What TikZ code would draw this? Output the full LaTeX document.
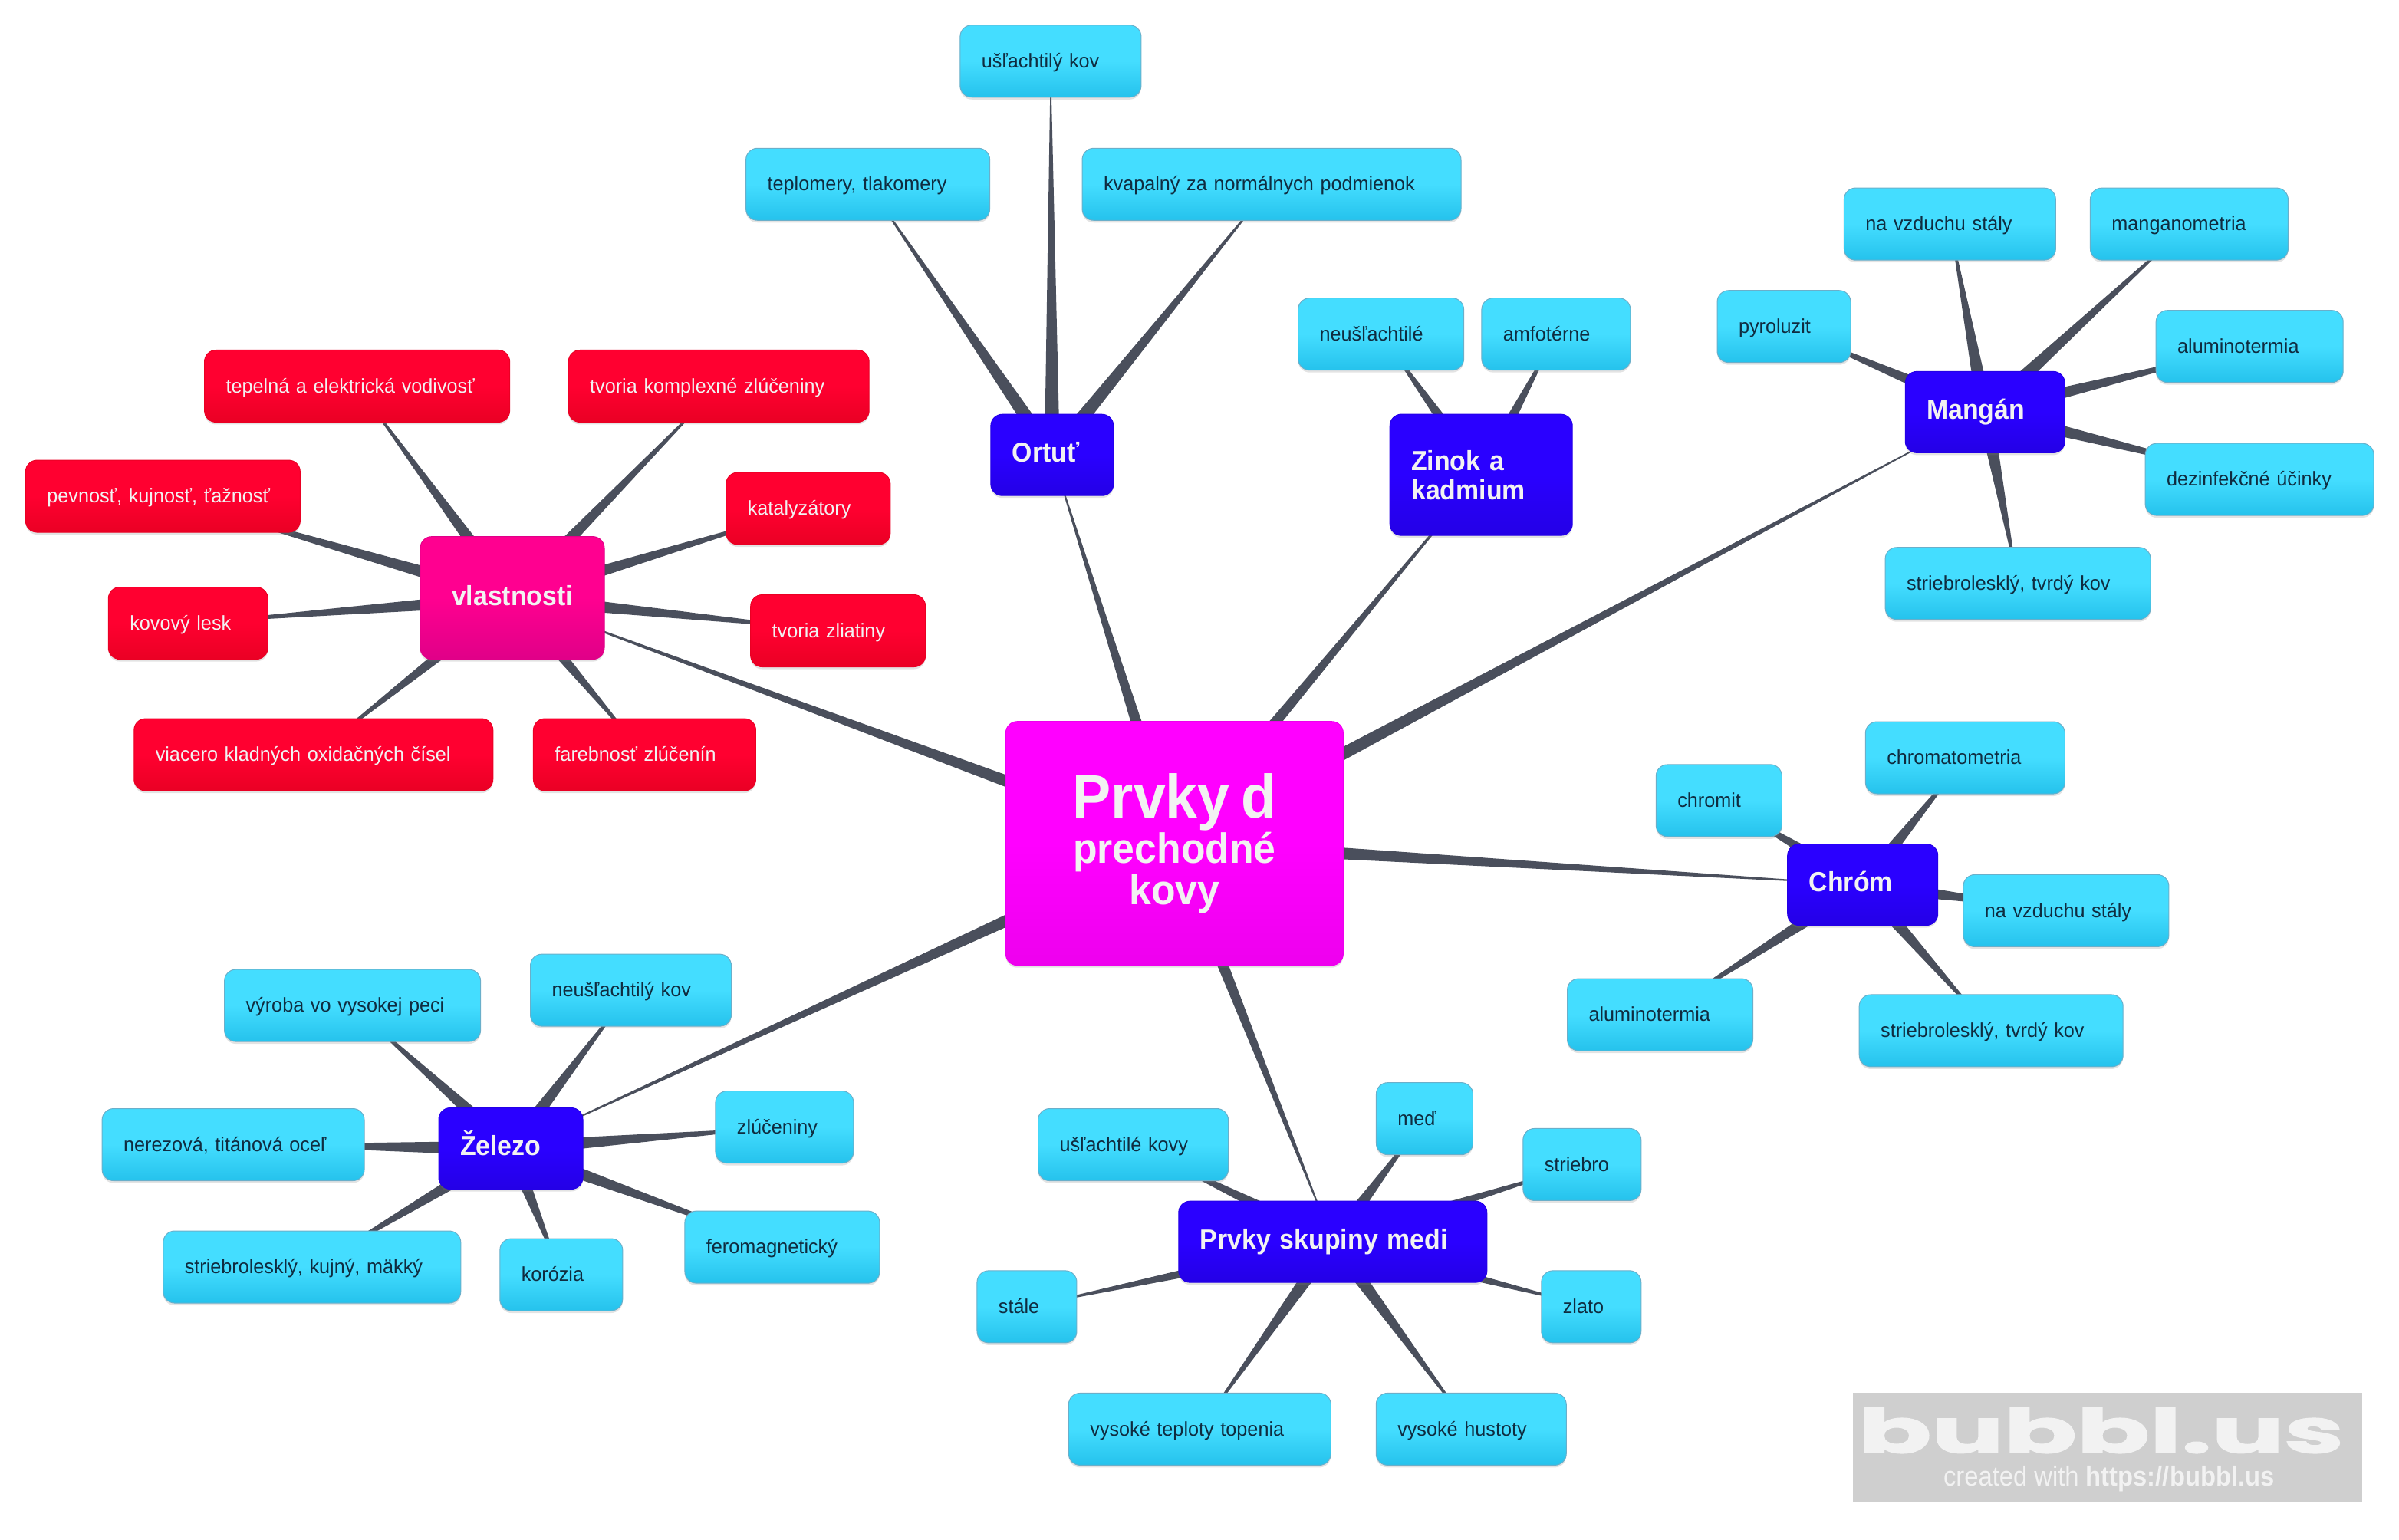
\documentclass[tikz,border=0pt]{standalone}
\usepackage{fontspec}
\setmainfont[FakeStretch=0.97,WordSpace=0.85,BoldFeatures={FakeStretch=0.94,WordSpace=0.7}]{Liberation Sans}
\newfontfamily\logofont[BoldFeatures={FakeBold=1.5}]{Poppins}
\newfontfamily\urlfont[FakeStretch=0.91]{Liberation Sans}
\usetikzlibrary{positioning,calc,shadows,backgrounds}
\definecolor{bondcol}{HTML}{4A4F5C}
\definecolor{leafink}{HTML}{0F2C40}
\definecolor{paleink}{HTML}{F2F2F2}
\tikzset{
  box/.style={rectangle,rounded corners=7.5pt,minimum height=47pt,inner xsep=14pt,inner ysep=0pt,align=left,
    text height=11.6pt,text depth=3pt,line width=.5pt,
    drop shadow={shadow xshift=0pt,shadow yshift=-1.5pt,opacity=.22}},
  leaf/.style={box,text width=#1pt-28pt,minimum width=#1pt,draw=cyan!70!black!70,top color=leaftop,bottom color=leafbot,middle color=leaftop,
    text=leafink,font=\fontsize{13}{16}\selectfont},
  redleaf/.style={box,text width=#1pt-28pt,minimum width=#1pt,draw=redbot,top color=redtop,bottom color=redbot,middle color=redtop,
    text=paleink,font=\fontsize{13}{16}\selectfont},
  branch/.style={box,text width=#1pt-28pt,minimum width=#1pt,minimum height=53pt,draw=bluebot,top color=bluetop,bottom color=bluebot,middle color=bluetop,
    text=paleink,font=\fontsize{18}{19}\selectfont\bfseries,text height=13.4pt,text depth=4pt},
}
\definecolor{leaftop}{HTML}{44DDFF}
\definecolor{leafbot}{HTML}{25C2EC}
\definecolor{redtop}{HTML}{FF0030}
\definecolor{redbot}{HTML}{EA0024}
\definecolor{bluetop}{HTML}{2A00FF}
\definecolor{bluebot}{HTML}{2400E6}
\definecolor{pinktop}{HTML}{FF0090}
\definecolor{pinkbot}{HTML}{E00088}
\definecolor{roottop}{HTML}{FF00FF}
\definecolor{rootbot}{HTML}{EE00EE}
\newcommand{\bond}[2]{%
  \begin{pgfonlayer}{background}
    \path (#1.center) -- (#2) coordinate (tip);
    \fill[bondcol] ($(#1.center)!5pt!90:(tip)$) -- ($(#1.center)!5pt!-90:(tip)$) -- (tip) -- cycle;
  \end{pgfonlayer}}

\begin{document}
\begin{tikzpicture}[x=0.997pt,y=-0.997pt]
  \useasboundingbox (0,0) rectangle (1568.7,1007);
  \node[box,minimum width=220pt,minimum height=159pt,inner xsep=0pt,align=center,text height=,text depth=,draw=rootbot,top color=roottop,bottom color=rootbot,middle color=roottop,text=paleink,font=\bfseries] (root) at (768,551.5)
    {{\fontsize{40}{30}\selectfont Prvky d}\\{\fontsize{27.5}{29}\selectfont prechodné}\\{\fontsize{27.5}{29}\selectfont kovy}};
%
  \node[branch=80] (ortut) at (688,297.5) {Ortuť};
  \node[branch=119,minimum height=79pt,text height=,text depth=] (zinok) at (968.5,310.5) {Zinok a\\kadmium};
  \node[branch=104] (mangan) at (1298,269.5) {Mangán};
  \node[branch=98] (chrom) at (1218,578.5) {Chróm};
  \node[branch=94] (zelezo) at (334,751) {Železo};
  \node[branch=201] (medi) at (871.5,812) {Prvky skupiny medi};
  \node[branch=120,minimum height=80pt,align=center,draw=pinkbot,top color=pinktop,bottom color=pinkbot,middle color=pinktop] (vlast) at (335,391) {vlastnosti};
%
  \node[leaf=118] (uslkov) at (687,40) {ušľachtilý kov};
  \node[leaf=159] (teplo) at (567.5,120.5) {teplomery, tlakomery};
  \node[leaf=247] (kvap) at (831.5,120.5) {kvapalný za normálnych podmienok};
  \node[leaf=108] (neusl) at (903,218.5) {neušľachtilé};
  \node[leaf=97] (amfo) at (1017.5,218.5) {amfotérne};
%
  \node[leaf=87] (pyro) at (1166.5,213.5) {pyroluzit};
  \node[leaf=138] (vzdmn) at (1275,146.5) {na vzduchu stály};
  \node[leaf=129] (mango) at (1431.5,146.5) {manganometria};
  \node[leaf=122] (alumn) at (1471,226.5) {aluminotermia};
  \node[leaf=149] (dezin) at (1477.5,313.5) {dezinfekčné účinky};
  \node[leaf=173] (strmn) at (1319.5,381.5) {striebrolesklý, tvrdý kov};
%
  \node[leaf=130] (chrmt) at (1285,495.5) {chromatometria};
  \node[leaf=82] (chrmit) at (1124,523.5) {chromit};
  \node[leaf=134] (vzdcr) at (1351,595.5) {na vzduchu stály};
  \node[leaf=121] (alumc) at (1085.5,663.5) {aluminotermia};
  \node[leaf=172] (strcr) at (1302,674) {striebrolesklý, tvrdý kov};
%
  \node[leaf=167] (vyrob) at (230.5,657.5) {výroba vo vysokej peci};
  \node[leaf=131] (neusk) at (412.5,647.5) {neušľachtilý kov};
  \node[leaf=171] (nerez) at (152.5,748.5) {nerezová, titánová oceľ};
  \node[leaf=90] (zluc) at (513,737) {zlúčeniny};
  \node[leaf=127] (ferom) at (511.5,815.5) {feromagnetický};
  \node[leaf=194] (strfe) at (204,828.5) {striebrolesklý, kujný, mäkký};
  \node[leaf=80] (koroz) at (367,833.5) {korózia};
%
  \node[leaf=124] (uslko) at (741,748.5) {ušľachtilé kovy};
  \node[leaf=63] (med) at (931.5,731.5) {meď};
  \node[leaf=77] (strbr) at (1034.5,761.5) {striebro};
  \node[leaf=65] (stale) at (671.5,854.5) {stále};
  \node[leaf=65] (zlato) at (1040.5,854.5) {zlato};
  \node[leaf=171] (topen) at (784.5,934.5) {vysoké teploty topenia};
  \node[leaf=124] (husto) at (962,934.5) {vysoké hustoty};
%
  \node[redleaf=199] (vodiv) at (233.5,252.5) {tepelná a elektrická vodivosť};
  \node[redleaf=196] (kompl) at (470,252.5) {tvoria komplexné zlúčeniny};
  \node[redleaf=179] (pevno) at (106.5,324.5) {pevnosť, kujnosť, ťažnosť};
  \node[redleaf=107] (kataly) at (528.5,332.5) {katalyzátory};
  \node[redleaf=104] (lesk) at (123,407.5) {kovový lesk};
  \node[redleaf=114] (zliat) at (548,412.5) {tvoria zliatiny};
  \node[redleaf=234] (oxid) at (205,493.5) {viacero kladných oxidačných čísel};
  \node[redleaf=145] (farba) at (421.5,493.5) {farebnosť zlúčenín};
%
  \foreach \kid in {ortut,zinok,mangan,chrom,zelezo,medi,vlast} {\bond{root}{\kid}}
  \foreach \kid in {uslkov,teplo,kvap} {\bond{ortut}{\kid}}
  \foreach \kid in {neusl,amfo} {\bond{zinok}{\kid}}
  \foreach \kid in {pyro,vzdmn,mango,alumn,dezin,strmn} {\bond{mangan}{\kid}}
  \foreach \kid in {chrmt,chrmit,vzdcr,alumc,strcr} {\bond{chrom}{\kid}}
  \foreach \kid in {vyrob,neusk,nerez,zluc,ferom,strfe,koroz} {\bond{zelezo}{\kid}}
  \foreach \kid in {uslko,med,strbr,stale,zlato,topen,husto} {\bond{medi}{\kid}}
  \foreach \kid in {vodiv,kompl,pevno,kataly,lesk,zliat,oxid,farba} {\bond{vlast}{\kid}}
%
  \node[fill=black!19,minimum width=332pt,minimum height=71pt,inner sep=0pt] (logo) at (1378,946.5) {};
  \node[text=paleink,font=\logofont\bfseries\fontsize{40}{40}\selectfont,transform shape,xscale=1.75,anchor=base,inner sep=0pt] (logoname) at (1374,950) {bubbl.us};
  \node[text=paleink,font=\fontsize{18}{20}\selectfont,inner sep=0pt] (logourl) at (1379,967) {\urlfont created with \textbf{https://bubbl.us}};
\end{tikzpicture}
\end{document}
